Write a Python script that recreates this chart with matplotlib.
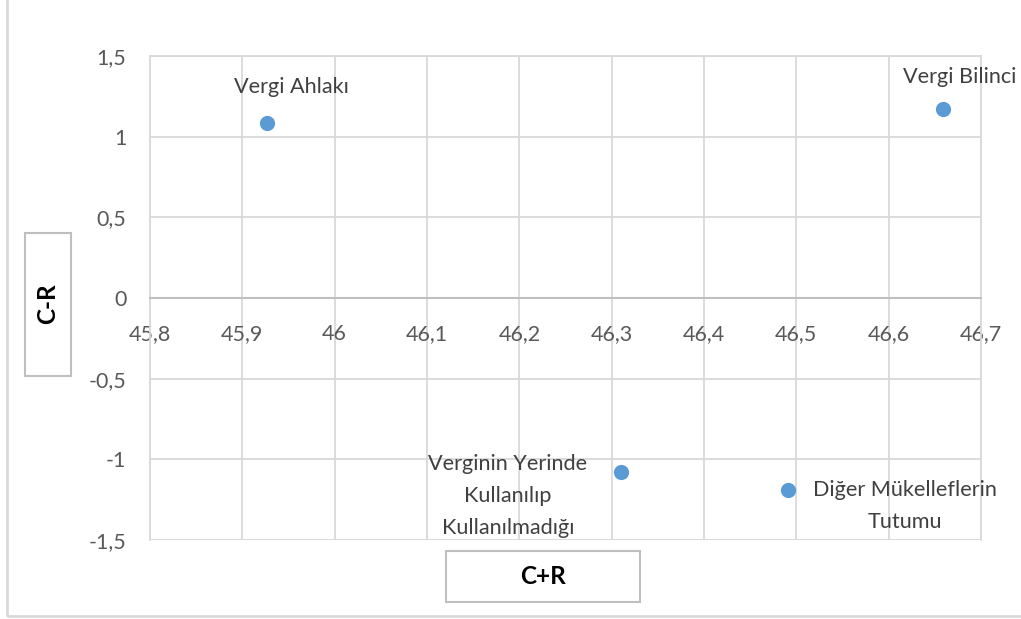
import matplotlib
matplotlib.use("Agg")
import matplotlib.pyplot as plt
from matplotlib.patches import Rectangle
from matplotlib.ticker import FuncFormatter, MultipleLocator

plt.rcParams['font.family'] = ['Lato', 'DejaVu Sans']

names = ["Vergi Ahlakı", "Vergi Bilinci", "Verginin Yerinde\nKullanılıp\nKullanılmadığı",
         "Diğer Mükelleflerin\nTutumu"]
c_plus_r = [45.927, 46.659, 46.310, 46.491]
c_minus_r = [1.085, 1.172, -1.077, -1.190]
label_offsets_px = [(24, 36), (17, 32), (-113, -24), (117, -16)]

W, H = 1021, 619
fig = plt.figure(figsize=(W / 100, H / 100), dpi=100)
ax = fig.add_axes([150 / W, 1 - 540 / H, (981 - 150) / W, (540 - 56) / H])

grid_c = '#d9d9d9'
txt_c = '#595959'

ax.set_xlim(45.8, 46.7)
ax.set_ylim(-1.5, 1.5)
ax.xaxis.set_major_locator(MultipleLocator(0.1))
ax.yaxis.set_major_locator(MultipleLocator(0.5))
fmt = FuncFormatter(lambda v, p: ('%g' % round(v, 2)).replace('.', ','))
ax.xaxis.set_major_formatter(fmt)
ax.yaxis.set_major_formatter(fmt)
ax.grid(True, color=grid_c, linewidth=1.3)
ax.set_axisbelow(True)
for s in ['top', 'right', 'left']:
    ax.spines[s].set_color(grid_c)
    ax.spines[s].set_linewidth(1.3)
ax.spines['bottom'].set_position(('data', 0))
ax.spines['bottom'].set_color('#bfbfbf')
ax.spines['bottom'].set_linewidth(1.5)
ax.tick_params(axis='both', length=0, labelsize=15.5, labelcolor=txt_c)
ax.tick_params(axis='x', pad=19)
ax.tick_params(axis='y', pad=17)
ax.axhline(-1.5, color=grid_c, linewidth=1.3, zorder=0.5)

ax.scatter(c_plus_r, c_minus_r, s=120, color='#5b9bd5', zorder=3, linewidths=0)
for n, x, y, (dx, dy) in zip(names, c_plus_r, c_minus_r, label_offsets_px):
    ax.annotate(n, (x, y), xytext=(dx * 0.72, dy * 0.72), textcoords='offset points',
                ha='center', va='center', multialignment='center', fontsize=15.6,
                color='#404040', linespacing=1.75, zorder=4)

# outer chart border
fig.patches.append(Rectangle((7 / W, 1 - 616 / H), 1.2, 1.2, transform=fig.transFigure,
                             fill=False, edgecolor=grid_c, linewidth=2))

# axis title boxes
fig.patches.append(Rectangle((25 / W, 1 - 376 / H), 46 / W, 143 / H, transform=fig.transFigure,
                             facecolor='white', edgecolor='#bfbfbf', linewidth=1.5))
fig.text(48 / W, 1 - 304 / H, "C-R", rotation=90, ha='center', va='center',
         fontsize=17.5, fontweight='bold', color='black')
fig.patches.append(Rectangle((446 / W, 1 - 602 / H), 194 / W, 51 / H, transform=fig.transFigure,
                             facecolor='white', edgecolor='#bfbfbf', linewidth=1.5))
fig.text(543 / W, 1 - 577 / H, "C+R", ha='center', va='center',
         fontsize=17.5, fontweight='bold', color='black')

fig.savefig('out.png', dpi=100)
